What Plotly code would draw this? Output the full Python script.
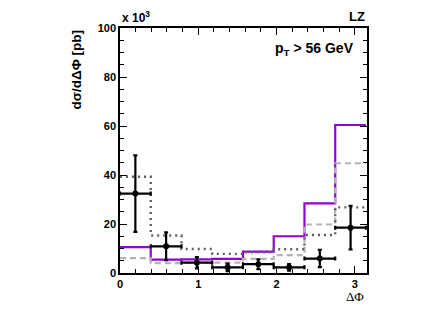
import numpy as np
import plotly.graph_objects as go

# bin edges in Delta Phi (8 bins of pi/8)
bin_edges = [0.0, 0.3927, 0.7854, 1.1781, 1.5708, 1.9635, 2.3562, 2.7489, 3.1416]
bin_centers = [0.1963, 0.5890, 0.9817, 1.3744, 1.7671, 2.1598, 2.5525, 2.9452]
bin_halfwidth = [0.1963] * 8

# values in units of 10^3 pb
purple_solid = [10.6, 5.5, 5.6, 5.8, 8.7, 15.0, 28.4, 60.4]
gray_dashed = [6.1, 4.0, 4.1, 4.2, 5.8, 7.3, 19.8, 44.8]
dark_dotted = [39.3, 15.3, 9.8, 7.8, 8.5, 9.7, 15.5, 26.8]
data_vals = [32.4, 10.9, 4.2, 2.3, 3.6, 2.3, 5.9, 18.5]
data_errs = [15.6, 5.7, 2.3, 1.5, 2.0, 1.3, 3.5, 8.9]

fig = go.Figure()

def step(vals, color, dash, width):
    fig.add_trace(go.Scatter(
        x=bin_edges, y=list(vals) + [vals[-1]], mode="lines",
        line=dict(shape="hv", color=color, dash=dash, width=width),
        showlegend=False, hoverinfo="skip"))

step(purple_solid, "#9400d3", "solid", 2.2)
step(gray_dashed, "#b4b4b4", "6px,4px", 2.2)
step(dark_dotted, "#606060", "2px,4px", 2.4)

fig.add_trace(go.Scatter(
    x=bin_centers, y=data_vals, mode="markers",
    marker=dict(color="black", size=6, symbol="circle"),
    error_y=dict(type="data", array=data_errs, color="black", thickness=2.2, width=2),
    error_x=dict(type="data", array=bin_halfwidth, color="black", thickness=2.2, width=2),
    showlegend=False))

fig.update_xaxes(
    range=[0, 3.155], showline=True, linecolor="black", linewidth=1.5, mirror="allticks",
    ticks="inside", ticklen=7, tickwidth=1, tickcolor="black",
    tickvals=[0, 1, 2, 3], ticktext=["0", "1", "2", "3"],
    minor=dict(ticks="inside", ticklen=4, dtick=0.2, tick0=0, tickcolor="black", showgrid=False),
    showgrid=False, zeroline=False,
    tickfont=dict(family="Liberation Sans", size=11, color="black", weight="bold"))
fig.update_yaxes(
    range=[0, 100], showline=True, linecolor="black", linewidth=1.5, mirror="allticks",
    ticks="inside", ticklen=7, tickwidth=1, tickcolor="black",
    tickvals=[0, 20, 40, 60, 80, 100],
    minor=dict(ticks="inside", ticklen=4, dtick=5, tick0=0, tickcolor="black", showgrid=False),
    showgrid=False, zeroline=False,
    tickfont=dict(family="Liberation Sans", size=11, color="black", weight="bold"))

fig.update_layout(
    width=434, height=301,
    margin=dict(l=112, r=75, t=20, b=36),
    paper_bgcolor="white", plot_bgcolor="white",
    annotations=[
        dict(text="dσ/dΔΦ [pb]", textangle=-90, xref="paper", yref="paper",
             x=-0.18, y=1.0, xanchor="center", yanchor="top", showarrow=False,
             font=dict(family="Liberation Sans", size=13.5, color="black", weight="bold")),
        dict(text="ΔΦ", xref="paper", yref="paper", x=0.95, y=-0.097,
             xanchor="center", yanchor="middle", showarrow=False,
             font=dict(family="Liberation Serif", size=13, color="black")),
        dict(text="x 10<sup>3</sup>", xref="paper", yref="paper", x=0.0, y=1.005,
             xanchor="left", yanchor="bottom", showarrow=False,
             font=dict(family="Liberation Sans", size=12, color="black", weight="bold")),
        dict(text="LZ", xref="paper", yref="paper", x=1.0, y=1.01,
             xanchor="right", yanchor="bottom", showarrow=False,
             font=dict(family="Liberation Sans", size=13, color="black", weight="bold")),
        dict(text="p<sub>T</sub> > 56 GeV", xref="paper", yref="paper", x=0.955, y=0.96,
             xanchor="right", yanchor="top", showarrow=False,
             font=dict(family="Liberation Sans", size=14, color="black", weight="bold")),
    ])

fig.write_html("out.html")
